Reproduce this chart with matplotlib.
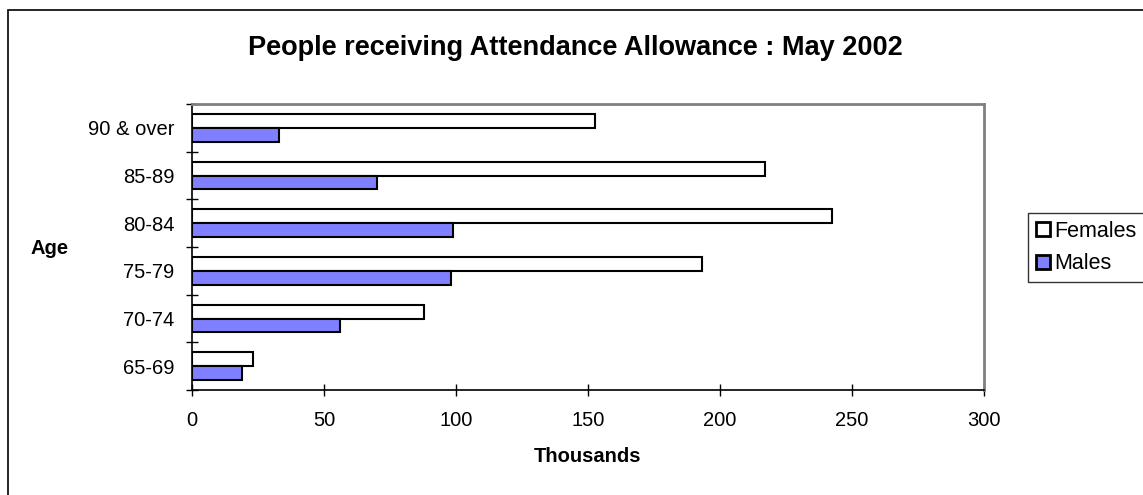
import numpy as np
import matplotlib.pyplot as plt
from matplotlib.patches import Rectangle

plt.rcParams['font.family'] = ['Liberation Sans', 'DejaVu Sans']

# data (thousands)
ages = ['65-69', '70-74', '75-79', '80-84', '85-89', '90 & over']
females = [23, 88, 193, 242.5, 217, 152.5]
males = [19, 56, 98, 99, 70, 33]

fig = plt.figure(figsize=(11.43, 4.95), dpi=100)
W, H = 1143, 495
# plot area in pixels: x 192..984, y 104..390
ax = fig.add_axes([192 / W, 1 - 390 / H, (984 - 192) / W, (390 - 104) / H])

y = np.arange(len(ages))
h = 0.29
ax.barh(y + h / 2, females, height=h, color='white', edgecolor='black',
        linewidth=1.5, label='Females')
ax.barh(y - h / 2, males, height=h, color='#8080FF', edgecolor='black',
        linewidth=1.5, label='Males')

ax.set_xlim(0, 300)
ax.set_ylim(-0.5, len(ages) - 0.5)
ax.set_xticks(np.arange(0, 301, 50))
ax.set_yticks(y)
ax.set_yticklabels(ages)
ax.set_yticks(np.arange(-0.5, len(ages), 1), minor=True)
ax.tick_params(axis='y', which='major', length=0, pad=12.5, labelsize=14.5)
ax.tick_params(axis='y', which='minor', direction='inout', length=8, width=1)
ax.tick_params(axis='x', direction='inout', length=8, width=1, pad=11, labelsize=14.5)

for s in ['left', 'bottom']:
    ax.spines[s].set_color('black')
    ax.spines[s].set_linewidth(1.2)
for s in ['top', 'right']:
    ax.spines[s].set_color('#808080')
    ax.spines[s].set_linewidth(2)

fig.text(588 / W, 1 - 457 / H, 'Thousands', fontsize=14.5, fontweight='bold',
         ha='center', va='center')
fig.text(50 / W, 1 - 248 / H, 'Age', fontsize=14.5, fontweight='bold',
         ha='center', va='center')
fig.text(575 / W, 1 - 48 / H, 'People receiving Attendance Allowance : May 2002',
         fontsize=19.5, fontweight='bold', ha='center', va='center')

# outer chart border
fig.patches.append(Rectangle((8 / W, -0.1), 1.2, 1 - 10 / H + 0.1,
                             transform=fig.transFigure, fill=False,
                             edgecolor='black', linewidth=1.2))

leg = fig.legend(loc='upper left', bbox_to_anchor=(1028 / W, 1 - 213 / H),
                 fontsize=15.5, frameon=True, fancybox=False, edgecolor='black',
                 handlelength=0.65, handleheight=0.65, handletextpad=0.2,
                 borderpad=0.35, labelspacing=0.55, borderaxespad=0)
leg.get_frame().set_linewidth(1)
for p in leg.get_patches():
    p.set_linewidth(2)

fig.savefig('out.png', dpi=100)
